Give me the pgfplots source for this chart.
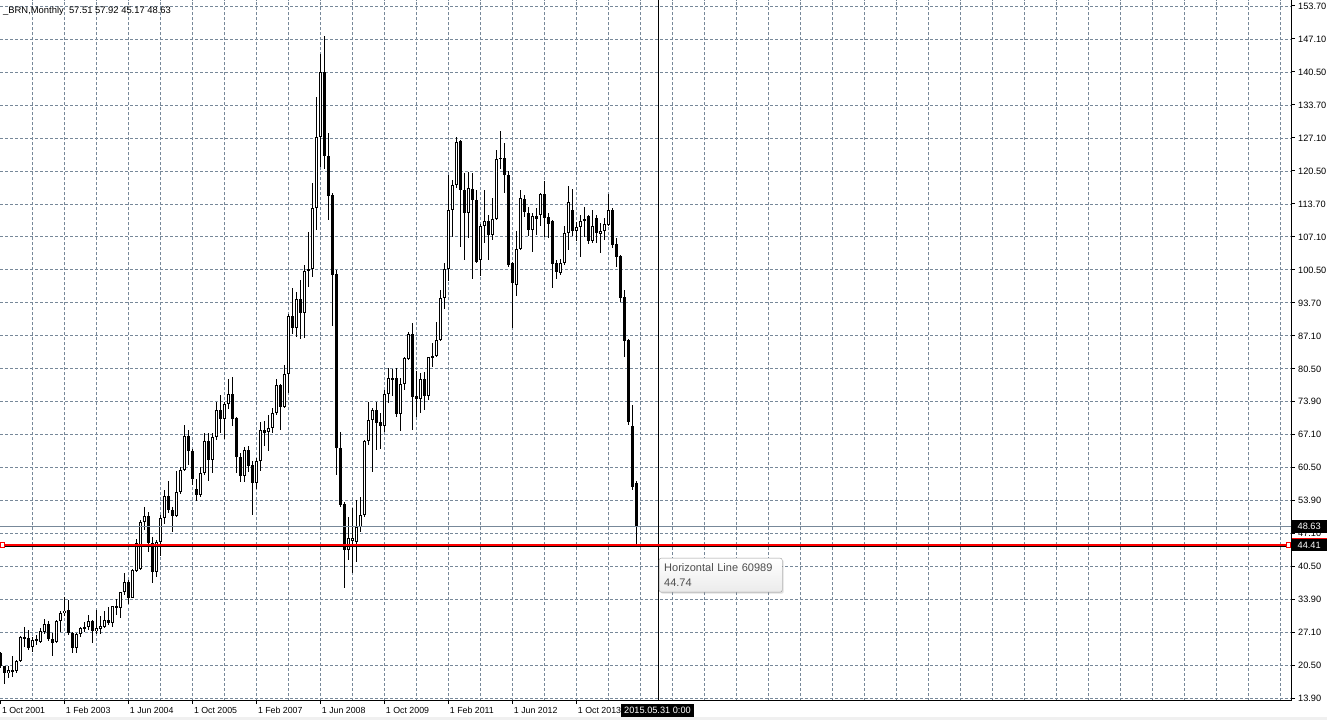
\documentclass[border=0pt]{standalone}
\usepackage{pgfplots}
\pgfplotsset{compat=1.18}
\usepackage{pgfplotstable}
\usepackage{fontspec}
\setmainfont{Liberation Sans}
\usetikzlibrary{shadows}
\definecolor{gridc}{HTML}{778899}
\definecolor{ttext}{HTML}{4D4D4D}
\pgfplotstableread{
i o h l c
0 23.1 23.4 20.0 20.4
1 20.5 20.6 16.8 19.0
2 19.0 20.4 18.0 19.7
3 19.7 22.5 18.3 19.4
4 19.4 21.7 19.0 21.5
5 21.5 26.5 21.4 26.4
6 26.4 28.3 24.3 26.0
7 26.1 27.8 23.7 24.1
8 24.3 26.4 23.4 25.7
9 25.7 26.8 24.7 25.8
10 25.4 28.1 25.1 27.5
11 27.4 30.0 27.0 28.9
12 28.9 29.6 25.6 25.9
13 25.9 27.1 22.6 25.2
14 25.3 29.8 25.1 29.6
15 29.6 31.5 27.4 31.1
16 31.1 34.4 30.5 31.7
17 31.8 33.8 26.8 27.1
18 27.1 27.3 23.1 24.1
19 24.1 27.1 23.1 26.9
20 26.9 28.3 26.4 28.1
21 28.0 29.4 27.4 28.4
22 28.3 30.8 27.8 29.6
23 29.6 29.8 25.2 27.6
24 27.6 31.8 27.0 28.1
25 28.0 30.5 27.0 28.6
26 28.4 31.5 28.1 29.8
27 29.8 32.5 28.8 29.1
28 29.1 32.7 28.4 32.6
29 32.6 34.0 30.8 32.2
30 32.3 35.5 30.1 35.4
31 35.4 39.2 34.8 37.4
32 37.4 37.9 33.0 34.3
33 34.3 40.0 34.2 39.9
34 39.7 46.2 39.4 45.3
35 40.0 50.0 39.8 49.5
36 49.5 52.5 48.0 50.8
37 50.8 51.5 43.5 45.4
38 45.4 46.5 37.2 39.5
39 39.5 46.0 38.5 45.6
40 45.6 51.0 42.6 50.4
41 50.4 56.0 49.1 54.8
42 54.8 57.8 51.3 52.0
43 52.0 52.6 47.6 50.8
44 50.8 59.9 50.6 55.7
45 55.7 60.7 55.3 60.0
46 60.0 69.1 59.9 66.9
47 66.9 68.1 61.1 63.8
48 63.9 64.2 57.0 58.2
49 56.3 58.2 53.9 55.0
50 55.0 60.7 54.7 59.4
51 59.4 67.5 59.0 65.9
52 65.9 67.5 57.9 62.1
53 62.1 67.5 59.4 66.8
54 66.8 73.8 66.1 72.2
55 72.2 75.2 67.5 70.3
56 70.3 73.8 66.4 73.4
57 73.4 78.5 72.3 75.4
58 75.4 78.9 68.9 70.4
59 70.5 70.8 59.4 62.7
60 62.7 63.4 57.6 58.9
61 58.9 64.6 57.7 64.1
62 64.1 64.8 59.7 60.9
63 61.1 61.9 50.9 57.4
64 57.4 62.4 56.2 61.9
65 61.9 69.8 59.9 68.1
66 68.1 69.9 64.8 67.6
67 67.7 71.1 63.8 68.5
68 68.5 72.5 67.5 71.5
69 71.5 78.5 71.2 77.2
70 77.2 77.5 68.1 72.7
71 72.7 81.2 72.5 79.4
72 79.4 91.5 75.5 91.1
73 91.1 96.7 87.6 88.8
74 88.8 95.9 86.8 94.5
75 94.5 98.5 86.4 91.7
76 91.7 101.4 86.6 100.2
77 100.2 108.0 97.0 100.6
78 100.6 117.9 99.1 112.9
79 112.9 135.3 108.5 127.2
80 127.2 144.1 121.3 140.4
81 140.4 147.6 120.9 123.5
82 123.5 128.0 110.5 115.4
83 115.6 115.9 89.1 99.4
84 99.6 100.4 59.0 64.4
85 64.4 67.8 52.5 53.0
86 53.1 53.5 36.2 44.0
87 44.0 50.6 41.9 46.3
88 45.8 52.3 39.2 46.4
89 45.6 54.0 41.4 48.6
90 48.6 54.7 47.6 51.0
91 51.0 66.1 50.6 65.9
92 65.9 73.8 65.1 70.1
93 70.1 72.5 59.6 72.2
94 72.2 73.8 64.1 69.5
95 69.7 71.5 64.2 69.0
96 69.0 76.2 67.8 75.3
97 75.3 80.6 73.6 78.6
98 78.6 80.4 74.9 78.2
99 78.6 80.6 70.8 71.4
100 71.4 78.6 68.0 77.5
101 77.5 82.9 76.3 82.6
102 82.5 88.0 82.3 87.5
103 87.5 89.8 68.1 74.8
104 75.0 80.0 70.7 74.3
105 74.3 79.6 71.5 78.4
106 78.5 79.9 72.2 75.0
107 75.0 82.9 74.2 82.8
108 82.8 85.6 80.8 83.1
109 83.1 90.0 82.9 86.3
110 86.3 96.3 86.0 94.7
111 94.7 101.8 92.5 100.6
112 100.6 119.6 98.1 112.5
113 112.5 118.6 107.1 117.6
114 117.6 127.2 116.9 126.3
115 126.5 126.6 105.1 116.6
116 116.6 119.9 102.4 111.9
117 111.9 120.1 106.8 116.9
118 116.8 119.9 98.7 114.5
119 114.5 116.6 101.8 102.1
120 102.4 109.8 99.2 109.3
121 109.3 116.6 105.8 110.3
122 110.3 111.5 102.4 107.5
123 107.5 114.9 106.5 110.8
124 110.8 124.6 110.5 122.9
125 122.9 128.5 120.9 123.1
126 123.0 126.1 116.0 119.6
127 119.6 120.3 101.1 101.4
128 101.8 102.1 88.7 97.7
129 97.4 108.3 95.2 104.6
130 104.6 116.6 104.5 114.9
131 114.7 115.6 111.2 112.2
132 111.9 113.1 107.2 108.4
133 108.4 112.0 104.1 111.3
134 111.3 112.9 107.5 110.8
135 111.5 116.0 109.3 115.8
136 115.8 118.4 107.1 110.9
137 111.2 112.0 106.8 109.8
138 110.4 110.5 96.7 101.6
139 101.9 102.4 98.7 100.1
140 99.9 102.6 99.4 101.9
141 101.8 109.3 101.4 107.8
142 107.8 117.4 104.5 114.1
143 112.5 116.7 107.2 108.2
144 108.2 110.2 106.3 109.0
145 109.0 111.5 103.1 110.3
146 110.3 113.1 107.1 110.7
147 111.3 111.5 105.7 106.3
148 106.3 112.5 105.9 109.3
149 111.0 111.5 105.9 107.8
150 107.7 110.0 103.9 108.3
151 108.2 110.9 106.5 109.7
152 109.5 115.8 109.3 112.5
153 112.5 112.9 104.8 105.5
154 105.6 106.8 101.1 103.1
155 103.2 103.4 94.0 94.7
156 94.9 96.4 82.9 86.0
157 86.2 86.4 69.2 69.8
158 68.9 73.2 56.0 56.7
159 57.51 57.92 45.17 48.63
}\candles
\newcommand\tickfont{\fontsize{9.2}{11}\selectfont}
\newcommand\xtickfont{\fontsize{8.8}{11}\selectfont}
\begin{document}
\begin{tikzpicture}
\fill[black!6] (0pt,0pt) rectangle (1327pt,3pt);
\begin{axis}[
  at={(0pt,19.5pt)}, anchor=south west,
  scale only axis, width=1291.5pt, height=700.5pt,
  xmin=-0.075, xmax=322.8, ymin=13.537, ymax=154.91,
  axis x line*=bottom, axis y line*=right,
  axis line style={-, black, line width=1pt},
  tick align=outside, major tick length=3.5pt, minor tick length=0pt,
  tick style={black, line width=1pt},
  xtick={0,16,...,144},
  xticklabels={1 Oct 2001,1 Feb 2003,1 Jun 2004,1 Oct 2005,1 Feb 2007,1 Jun 2008,1 Oct 2009,1 Feb 2011,1 Jun 2012,1 Oct 2013},
  minor xtick={8,16,...,320},
  ytick={13.9,20.557,27.214,33.871,40.529,47.186,53.843,60.5,67.157,73.814,80.471,87.129,93.786,100.443,107.1,113.757,120.414,127.071,133.729,140.386,147.043,153.7},
  yticklabels={13.90,20.50,27.10,33.90,40.50,47.10,53.90,60.50,67.10,73.90,80.50,87.10,93.70,100.50,107.10,113.70,120.50,127.10,133.70,140.50,147.10,153.70},
  xmajorgrids=false, xminorgrids=true, ymajorgrids=true,
  major grid style={gridc, line width=0.8pt, dash pattern=on 3pt off 2pt},
  minor grid style={gridc, line width=0.8pt, dash pattern=on 3pt off 2pt},
  xticklabel style={font=\xtickfont, anchor=north west, inner sep=0pt, xshift=1.5pt},
  yticklabel style={font=\tickfont, anchor=west, inner sep=0pt},
  xticklabel shift=2.8pt, yticklabel shift=3pt,
  /pgf/number format/assume math mode=true,
]
% wicks
\addplot[draw=none, mark=none, forget plot,
  error bars/.cd, y dir=both, y explicit, error mark=none,
  error bar style={draw=black, line width=1pt}]
  table[x=i, y expr={(\thisrow{h}+\thisrow{l})/2}, y error expr={(\thisrow{h}-\thisrow{l})/2}] {\candles};
% bodies
\addplot[draw=none, mark=none, forget plot,
  error bars/.cd, y dir=both, y explicit, error mark=none,
  error bar style={draw=black, line width=3pt}]
  table[x=i, y expr={(\thisrow{o}+\thisrow{c})/2}, y error expr={max(abs(\thisrow{o}-\thisrow{c})/2,0.1)}] {\candles};
% hollow interior of rising candles
\addplot[draw=none, mark=none, forget plot, restrict x to domain=-1:400,
  error bars/.cd, y dir=both, y explicit, error mark=none,
  error bar style={draw=white, line width=1pt}]
  table[x expr={((\thisrow{c}-\thisrow{o})>0.4) ? \thisrow{i} : -100}, y expr={(\thisrow{o}+\thisrow{c})/2}, y error expr={(\thisrow{c}-\thisrow{o})/2-0.2}] {\candles};
% current price line
\addplot[gridc, line width=1pt, forget plot] coordinates {(-0.075,48.63) (322.8,48.63)};
% vertical crosshair line
\addplot[black, line width=1pt, forget plot] coordinates {(164.6,13.537) (164.6,154.91)};
% horizontal line object
\addplot[black, line width=1pt, forget plot] coordinates {(-0.075,44.68) (322.8,44.68)};
\addplot[red, line width=2pt, forget plot] coordinates {(-0.075,44.98) (322.8,44.98)};
\addplot[only marks, mark=square*, mark size=2.4pt, mark options={fill=white, draw=red, line width=1pt}, forget plot] coordinates {(0.55,44.98) (322.05,44.98)};
\coordinate (Lp) at (axis cs:322.8,48.63);
\coordinate (Lr) at (axis cs:322.8,44.98);
\coordinate (VL) at (axis cs:164.6,13.537);
\coordinate (TT) at (axis cs:164.675,42.30);
\coordinate (TL) at (axis cs:-0.075,154.91);
\end{axis}
% price boxes on the right
\fill[black] ([xshift=0.5pt,yshift=-6.5pt]Lp) rectangle ([xshift=36pt,yshift=6.5pt]Lp);
\node[anchor=west, inner sep=0pt, text=white, font=\tickfont] at ([xshift=6pt]Lp) {48.63};
\fill[black] ([xshift=0.5pt,yshift=-6.3pt]Lr) rectangle ([xshift=36pt,yshift=6.7pt]Lr);
\fill[red] ([xshift=0.5pt,yshift=5.4pt]Lr) rectangle ([xshift=36pt,yshift=6.7pt]Lr);
\node[anchor=west, inner sep=0pt, text=white, font=\tickfont] at ([xshift=6pt,yshift=-0.3pt]Lr) {44.41};
% crosshair date label
\node[fill=black, text=white, font=\tickfont, anchor=north, minimum width=72pt, minimum height=13pt, inner sep=0pt, xshift=-1.2pt, yshift=-3.5pt] at (VL) {2015.05.31 0:00};
% title
\node[anchor=north west, inner sep=0pt, font=\fontsize{9.4}{11}\selectfont] at ([xshift=3pt,yshift=-6pt]TL) {\_BRN,Monthly\ \ 57.51 57.92 45.17 48.63};
% tooltip
\node[anchor=north west, draw=black!40, rounded corners=2pt, top color=white, bottom color=black!8,
  drop shadow={shadow xshift=1.5pt, shadow yshift=-1.5pt, opacity=0.25},
  minimum width=123pt, minimum height=34pt, text width=113pt, inner xsep=5pt, inner ysep=3pt,
  align=left, text=ttext, font=\fontsize{11}{14.5}\selectfont] at (TT) {Horizontal Line 60989\\44.74};
\pgfresetboundingbox
\path[use as bounding box] (0pt,0pt) rectangle (1327pt,720pt);
\end{tikzpicture}
\end{document}
